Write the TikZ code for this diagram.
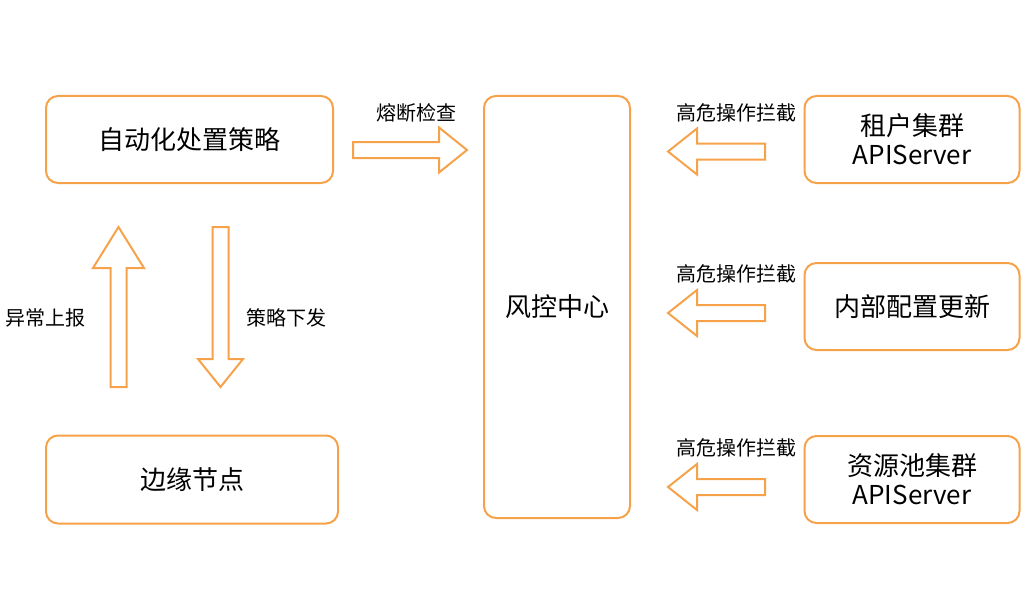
\documentclass[tikz,border=0pt]{standalone}
\usepackage{fontspec}
\setmainfont{Noto Sans CJK SC}
\usetikzlibrary{calc}

\definecolor{boxorange}{RGB}{246,162,74}

% hollow block arrow: tail, tip, head length, half head width
\newcommand{\fatarrow}[4]{%
\coordinate (hb) at ($(#2)!#3!(#1)$);
\draw[fat] ($(#1)!4pt!90:(#2)$) -- ($(hb)!4pt!90:(#2)$) -- ($(hb)!#4!90:(#2)$) -- (#2) -- ($(hb)!#4!-90:(#2)$) -- ($(hb)!4pt!-90:(#2)$) -- ($(#1)!4pt!-90:(#2)$) -- cycle;}

\begin{document}
\begin{tikzpicture} [x=.5pt, y=-.5pt,
  box/.style={draw=boxorange, line width=1pt, rounded corners=6pt, align=center, inner sep=0pt, font=\fontsize{13}{14.5}\selectfont},
  lbl/.style={font=\fontsize{10}{12}\selectfont},
  fat/.style={draw=boxorange, line width=1pt, line join=miter}]
\useasboundingbox (0,0) rectangle (1027,615);

\node[box, minimum width=143.5pt, minimum height=43.5pt] (policy) at (189.5,139.5) {自动化处置策略};
\node[box, minimum width=146pt, minimum height=44pt] (edge) at (192,479.5) {边缘节点};
\node[box, minimum width=73pt, minimum height=211pt] (risk) at (557,307) {风控中心};

\foreach \y/\name/\txt in {139.5/tenant/{租户集群\\APIServer}, 306.5/config/{内部配置更新}, 479.5/pool/{资源池集群\\APIServer}}
  \node[box, minimum width=107.5pt, minimum height=43.5pt] (\name) at (912,\y) {\txt};

% policy -> risk
\coordinate (fuseA) at (353,150);
\coordinate (fuseB) at (467,150);
\fatarrow{fuseA}{fuseB}{14pt}{11.25pt}
\node[lbl] (fuse) at (416,113) {熔断检查};

% edge <-> policy
\coordinate (upA) at (118.5,387);
\coordinate (upB) at (118.5,227);
\fatarrow{upA}{upB}{20.5pt}{12.75pt}
\node[lbl] (report) at (45,318) {异常上报};

\coordinate (downA) at (220.5,227);
\coordinate (downB) at (220.5,387);
\fatarrow{downA}{downB}{14pt}{11.25pt}
\node[lbl] (issue) at (286,318) {策略下发};

% clusters -> risk
\foreach \y/\n in {151.5/1, 313/2, 487/3} {
  \coordinate (tail\n) at (765,\y);
  \coordinate (tip\n) at (668,\y);
  \fatarrow{tail\n}{tip\n}{14.5pt}{11.5pt}
  \node[lbl] (warn\n) at (736,\y-39) {高危操作拦截};
}

\end{tikzpicture}
\end{document}
